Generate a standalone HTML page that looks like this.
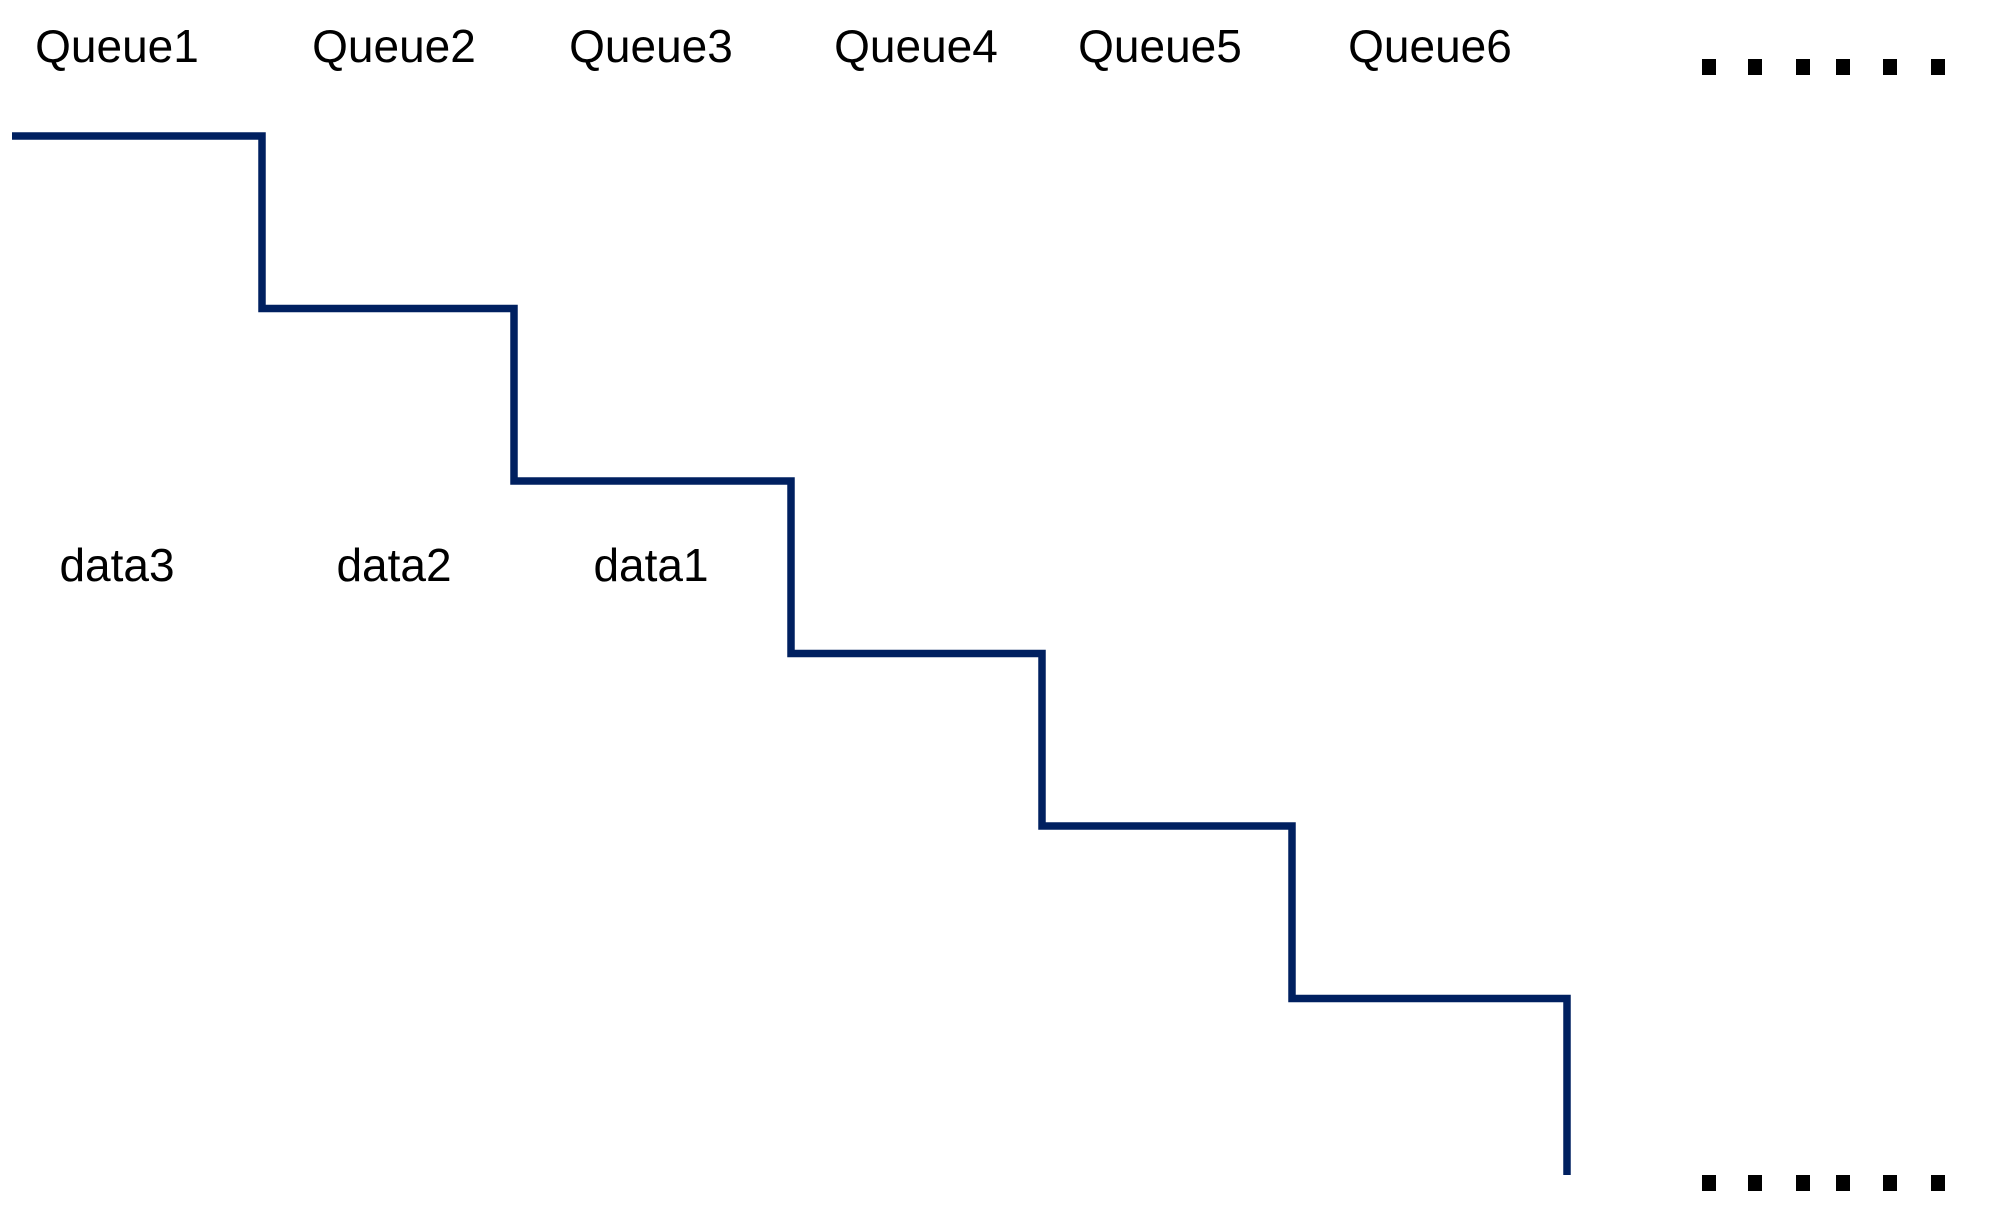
<!DOCTYPE html>
<html><head><meta charset="utf-8"><style>
html,body{margin:0;padding:0;background:#fff;}
svg{display:block;}
text{font-family:"Liberation Sans","Noto Sans CJK SC",sans-serif;fill:#000;}
</style></head><body>
<svg id="chart" width="2010" height="1219" viewBox="0 0 2010 1219" xmlns="http://www.w3.org/2000/svg"></svg>
<script>
const queueLabels = ["Queue1","Queue2","Queue3","Queue4","Queue5","Queue6"];
const dataLabels = ["data3","data2","data1"];
const stepLevels = [0,1,2,3,4,5];
const NS="http://www.w3.org/2000/svg";
const svg=document.getElementById('chart');
const stepX=[12,262,514,791,1042,1292,1567];
const yOf=l=>136+l*172.5;
const labelX=[117,394,651,916,1160,1430];
function mk(tag,attrs){const e=document.createElementNS(NS,tag);for(const k in attrs)e.setAttribute(k,attrs[k]);svg.appendChild(e);return e;}
let d="M"+stepX[0]+" "+yOf(stepLevels[0]);
stepLevels.forEach((l,i)=>{
  d+=" L"+stepX[i+1]+" "+yOf(l);
  const next = i+1<stepLevels.length ? yOf(stepLevels[i+1]) : 1175;
  d+=" L"+stepX[i+1]+" "+next;
});
const p=mk('path',{d:d,fill:'none',stroke:'#002060','stroke-width':7.5,'stroke-linejoin':'miter'});


queueLabels.forEach((t,i)=>{
  const e=mk('text',{x:labelX[i],y:62,'font-size':46,'text-anchor':'middle'});
  e.textContent=t;
  
  
});
dataLabels.forEach((t,i)=>{
  const e=mk('text',{x:labelX[i],y:581,'font-size':46,'text-anchor':'middle'});
  e.textContent=t;
  
  
});
const dotX=[1709,1755,1803,1843,1890,1938];
[67,1183].forEach(cy=>{
  dotX.forEach(x=>{
    const r=mk('rect',{x:x-7,y:cy-8,width:14,height:16,fill:'#000'});
    
    
  });
});
</script>
</body></html>
